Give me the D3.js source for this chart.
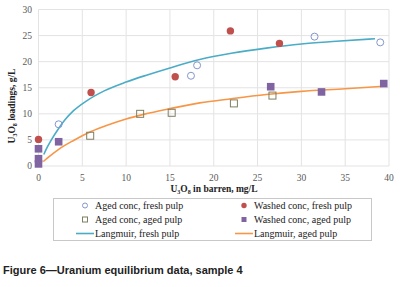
<!DOCTYPE html>
<html>
<head>
<meta charset="utf-8">
<script src="https://cdn.jsdelivr.net/npm/d3@7"></script>
<style>
  body { margin: 0; background: #fff; }
  svg { display: block; }
</style>
</head>
<body>
<div id="chart"></div>
<script>
// Values (x = U3O8 in barren mg/L, y = loading g/L)
const agedFreshX = [2.3, 17.4, 18.1, 31.5, 39.0];
const agedFreshY = [8.0, 17.3, 19.3, 24.8, 23.7];

const washedFreshX = [0, 6.0, 15.6, 21.9, 27.5];
const washedFreshY = [5.1, 14.1, 17.1, 25.9, 23.5];

const agedAgedX = [5.9, 11.6, 15.2, 22.3, 26.7];
const agedAgedY = [5.8, 10.0, 10.2, 12.0, 13.5];

const washedAgedX = [0, 0, 0, 2.3, 26.5, 32.3, 39.4];
const washedAgedY = [3.3, 1.4, 0.4, 4.65, 15.2, 14.2, 15.8];

// Langmuir fits, points
const langFreshX = [0.6, 1.0, 1.5, 2.3, 3.0, 4.0, 5.5, 7.5, 10, 12.5, 15, 18.4, 22, 26, 30, 34, 38.4];
const langFreshY = [2.2, 3.6, 5.1, 7.2, 8.8, 10.6, 12.5, 14.4, 16.1, 17.5, 18.8, 20.4, 21.6, 22.6, 23.4, 23.9, 24.4];

const langAgedX = [0.55, 1.0, 2.3, 4, 6, 8, 10, 12, 15, 18.4, 22, 26, 30, 35, 39.4];
const langAgedY = [0.85, 1.5, 3.2, 4.9, 6.6, 7.9, 9.0, 9.9, 11.0, 12.1, 12.9, 13.7, 14.3, 14.8, 15.3];

const xTicks = [0, 5, 10, 15, 20, 25, 30, 35, 40];
const yTicks = [0, 5, 10, 15, 20, 25, 30];

const width = 408, height = 287;
const serif = "'Liberation Serif', 'DejaVu Serif', serif";

const svg = d3.select("#chart").append("svg")
    .attr("width", width)
    .attr("height", height);

const x = d3.scaleLinear().domain([0, 40]).range([38.5, 389]);
const y = d3.scaleLinear().domain([0, 30]).range([166, 9.5]);

// gridlines
svg.append("g").selectAll("line.v")
    .data(xTicks).enter().append("line")
    .attr("x1", d => x(d)).attr("x2", d => x(d))
    .attr("y1", y(0)).attr("y2", y(30))
    .attr("stroke", "#e3e3e3").attr("stroke-width", 1);
svg.append("g").selectAll("line.h")
    .data(yTicks).enter().append("line")
    .attr("x1", x(0)).attr("x2", x(40))
    .attr("y1", d => y(d)).attr("y2", d => y(d))
    .attr("stroke", "#e3e3e3").attr("stroke-width", 1);

// tick labels
svg.append("g").selectAll("text")
    .data(xTicks).enter().append("text")
    .attr("x", d => x(d)).attr("y", 180.5)
    .attr("text-anchor", "middle")
    .style("font-family", serif).style("font-size", "9.5px")
    .style("fill", "#595959")
    .text(d => d);
svg.append("g").selectAll("text")
    .data(yTicks).enter().append("text")
    .attr("x", 32).attr("y", d => y(d) + 3.3)
    .attr("text-anchor", "end")
    .style("font-family", serif).style("font-size", "9.5px")
    .style("fill", "#595959")
    .text(d => d);

// axis titles with subscripts
function u3o8(sel, rest) {
    sel.append("tspan").text("U");
    sel.append("tspan").attr("dy", 2).style("font-size", "6px").text("3");
    sel.append("tspan").attr("dy", -2).text("O");
    sel.append("tspan").attr("dy", 2).style("font-size", "6px").text("8");
    sel.append("tspan").attr("dy", -2).text(rest);
}
const xTitle = svg.append("text")
    .attr("x", 214).attr("y", 192)
    .attr("text-anchor", "middle")
    .style("font-family", serif).style("font-size", "9.5px")
    .style("font-weight", "bold").style("fill", "#222");
u3o8(xTitle, " in barren, mg/L");

const yTitle = svg.append("text")
    .attr("transform", "translate(15,106) rotate(-90)")
    .attr("text-anchor", "middle")
    .style("font-family", serif).style("font-size", "9.5px")
    .style("font-weight", "bold").style("fill", "#222");
u3o8(yTitle, " loadings, g/L");

// Langmuir curves
const line = d3.line()
    .x(d => x(d[0])).y(d => y(d[1]))
    .curve(d3.curveMonotoneX);
svg.append("path")
    .datum(d3.zip(langAgedX, langAgedY))
    .attr("d", line)
    .attr("fill", "none").attr("stroke", "#f79646").attr("stroke-width", 1.6);
svg.append("path")
    .datum(d3.zip(langFreshX, langFreshY))
    .attr("d", line)
    .attr("fill", "none").attr("stroke", "#4bacc6").attr("stroke-width", 1.6);

// markers
const sq = 7;
svg.append("g").selectAll("rect")
    .data(d3.zip(agedAgedX, agedAgedY)).enter().append("rect")
    .attr("x", d => x(d[0]) - sq / 2).attr("y", d => y(d[1]) - sq / 2)
    .attr("width", sq).attr("height", sq)
    .attr("fill", "none").attr("stroke", "#7f7f62").attr("stroke-width", 1);
svg.append("g").selectAll("rect")
    .data(d3.zip(washedAgedX, washedAgedY)).enter().append("rect")
    .attr("x", d => x(d[0]) - 3.8).attr("y", d => y(d[1]) - 3.8)
    .attr("width", 7.6).attr("height", 7.6)
    .attr("fill", "#8064a2");
svg.append("g").selectAll("circle")
    .data(d3.zip(washedFreshX, washedFreshY)).enter().append("circle")
    .attr("cx", d => x(d[0])).attr("cy", d => y(d[1])).attr("r", 3.7)
    .attr("fill", "#c0504d");
svg.append("g").selectAll("circle")
    .data(d3.zip(agedFreshX, agedFreshY)).enter().append("circle")
    .attr("cx", d => x(d[0])).attr("cy", d => y(d[1])).attr("r", 3.5)
    .attr("fill", "none").attr("stroke", "#8496cc").attr("stroke-width", 1);

// legend
const legend = svg.append("g");
legend.append("rect")
    .attr("x", 53.5).attr("y", 198.5).attr("width", 318).attr("height", 42)
    .attr("fill", "#fff").attr("stroke", "#c8c8c8");

const legendItems = [
    {label: "Aged conc, fresh pulp", type: "ocircle", col: 0, row: 0},
    {label: "Washed conc, fresh pulp", type: "fcircle", col: 1, row: 0},
    {label: "Aged conc, aged pulp", type: "osquare", col: 0, row: 1},
    {label: "Washed conc, aged pulp", type: "fsquare", col: 1, row: 1},
    {label: "Langmuir, fresh pulp", type: "bline", col: 0, row: 2},
    {label: "Langmuir, aged pulp", type: "oline", col: 1, row: 2}
];
const colX = [85, 244];
const rowY = [205.5, 219.5, 233.5];

legendItems.forEach(function (it) {
    const cx = colX[it.col], cy = rowY[it.row];
    if (it.type === "ocircle") {
        legend.append("circle").attr("cx", cx).attr("cy", cy).attr("r", 2.5)
            .attr("fill", "none").attr("stroke", "#8496cc");
    } else if (it.type === "fcircle") {
        legend.append("circle").attr("cx", cx).attr("cy", cy).attr("r", 2.7)
            .attr("fill", "#c0504d");
    } else if (it.type === "osquare") {
        legend.append("rect").attr("x", cx - 2.5).attr("y", cy - 2.5)
            .attr("width", 5).attr("height", 5)
            .attr("fill", "none").attr("stroke", "#7f7f62");
    } else if (it.type === "fsquare") {
        legend.append("rect").attr("x", cx - 2.5).attr("y", cy - 2.5)
            .attr("width", 5).attr("height", 5).attr("fill", "#8064a2");
    } else {
        legend.append("line").attr("x1", cx - 9).attr("x2", cx + 9)
            .attr("y1", cy).attr("y2", cy)
            .attr("stroke", it.type === "bline" ? "#4bacc6" : "#f79646")
            .attr("stroke-width", 1.6);
    }
    legend.append("text")
        .attr("x", cx + 10).attr("y", cy + 3.4)
        .style("font-family", serif).style("font-size", "10px")
        .style("fill", "#222")
        .text(it.label);
});

// caption
svg.append("text")
    .attr("x", 3).attr("y", 274)
    .style("font-family", "'Liberation Sans', Arial, sans-serif")
    .style("font-size", "11px").style("font-weight", "bold")
    .style("fill", "#222")
    .text("Figure 6\u2014Uranium equilibrium data, sample 4");
</script>
</body>
</html>
